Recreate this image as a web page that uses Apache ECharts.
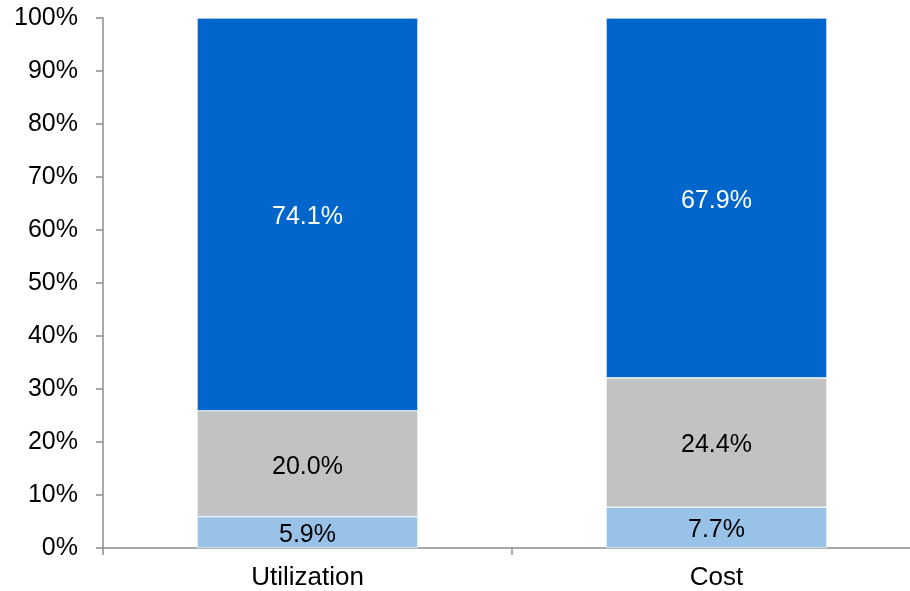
<!DOCTYPE html>
<html><head><meta charset="utf-8">
<script src="https://cdn.jsdelivr.net/npm/echarts@6/dist/echarts.min.js"></script>
<style>html,body{margin:0;padding:0;background:#fff;overflow:hidden;width:910px;height:591px}#c{width:921px;height:591px}</style>
</head><body><div id="c"></div>
<script>
const categories = ['Utilization', 'Cost'];
const bottomValues = [5.9, 7.7];
const middleValues = [20.0, 24.4];
const topValues = [74.1, 67.9];
const yTicks = [0, 10, 20, 30, 40, 50, 60, 70, 80, 90, 100];

const font = 'Liberation Sans, Arial, sans-serif';
function seg(data, color, labelColor) {
  return {
    type: 'bar', stack: 'a', data: data, barWidth: '54%',
    itemStyle: { color: color, borderColor: '#ffffff', borderWidth: 0.6 },
    label: { show: true, position: 'inside', offset: [0, 3], color: labelColor, fontFamily: font, fontSize: 25,
      formatter: p => p.value.toFixed(1) + '%' }
  };
}
const chart = echarts.init(document.getElementById('c'));
chart.setOption({
  animation: false,
  grid: { left: 103, right: 0, top: 18, bottom: 43, containLabel: false },
  xAxis: {
    type: 'category', data: categories,
    axisLine: { lineStyle: { color: '#8c8c8c', width: 1.5 } },
    axisTick: { show: true, length: 7, lineStyle: { color: '#8c8c8c', width: 1.5 } },
    axisLabel: { color: '#000', fontFamily: font, fontSize: 26, margin: 17 }
  },
  yAxis: {
    type: 'value', min: yTicks[0], max: yTicks[yTicks.length - 1], interval: 10,
    axisLine: { show: true, lineStyle: { color: '#8c8c8c', width: 1.5 } },
    axisTick: { show: true, length: 7, lineStyle: { color: '#8c8c8c', width: 1.5 } },
    splitLine: { show: false },
    axisLabel: { color: '#000', fontFamily: font, fontSize: 25, margin: 25, formatter: v => v + '%' }
  },
  series: [
    seg(bottomValues, '#99c2e8', '#000'),
    seg(middleValues, '#c1c2c4', '#000'),
    seg(topValues, '#0066cc', '#ffffff')
  ]
});
</script></body></html>
